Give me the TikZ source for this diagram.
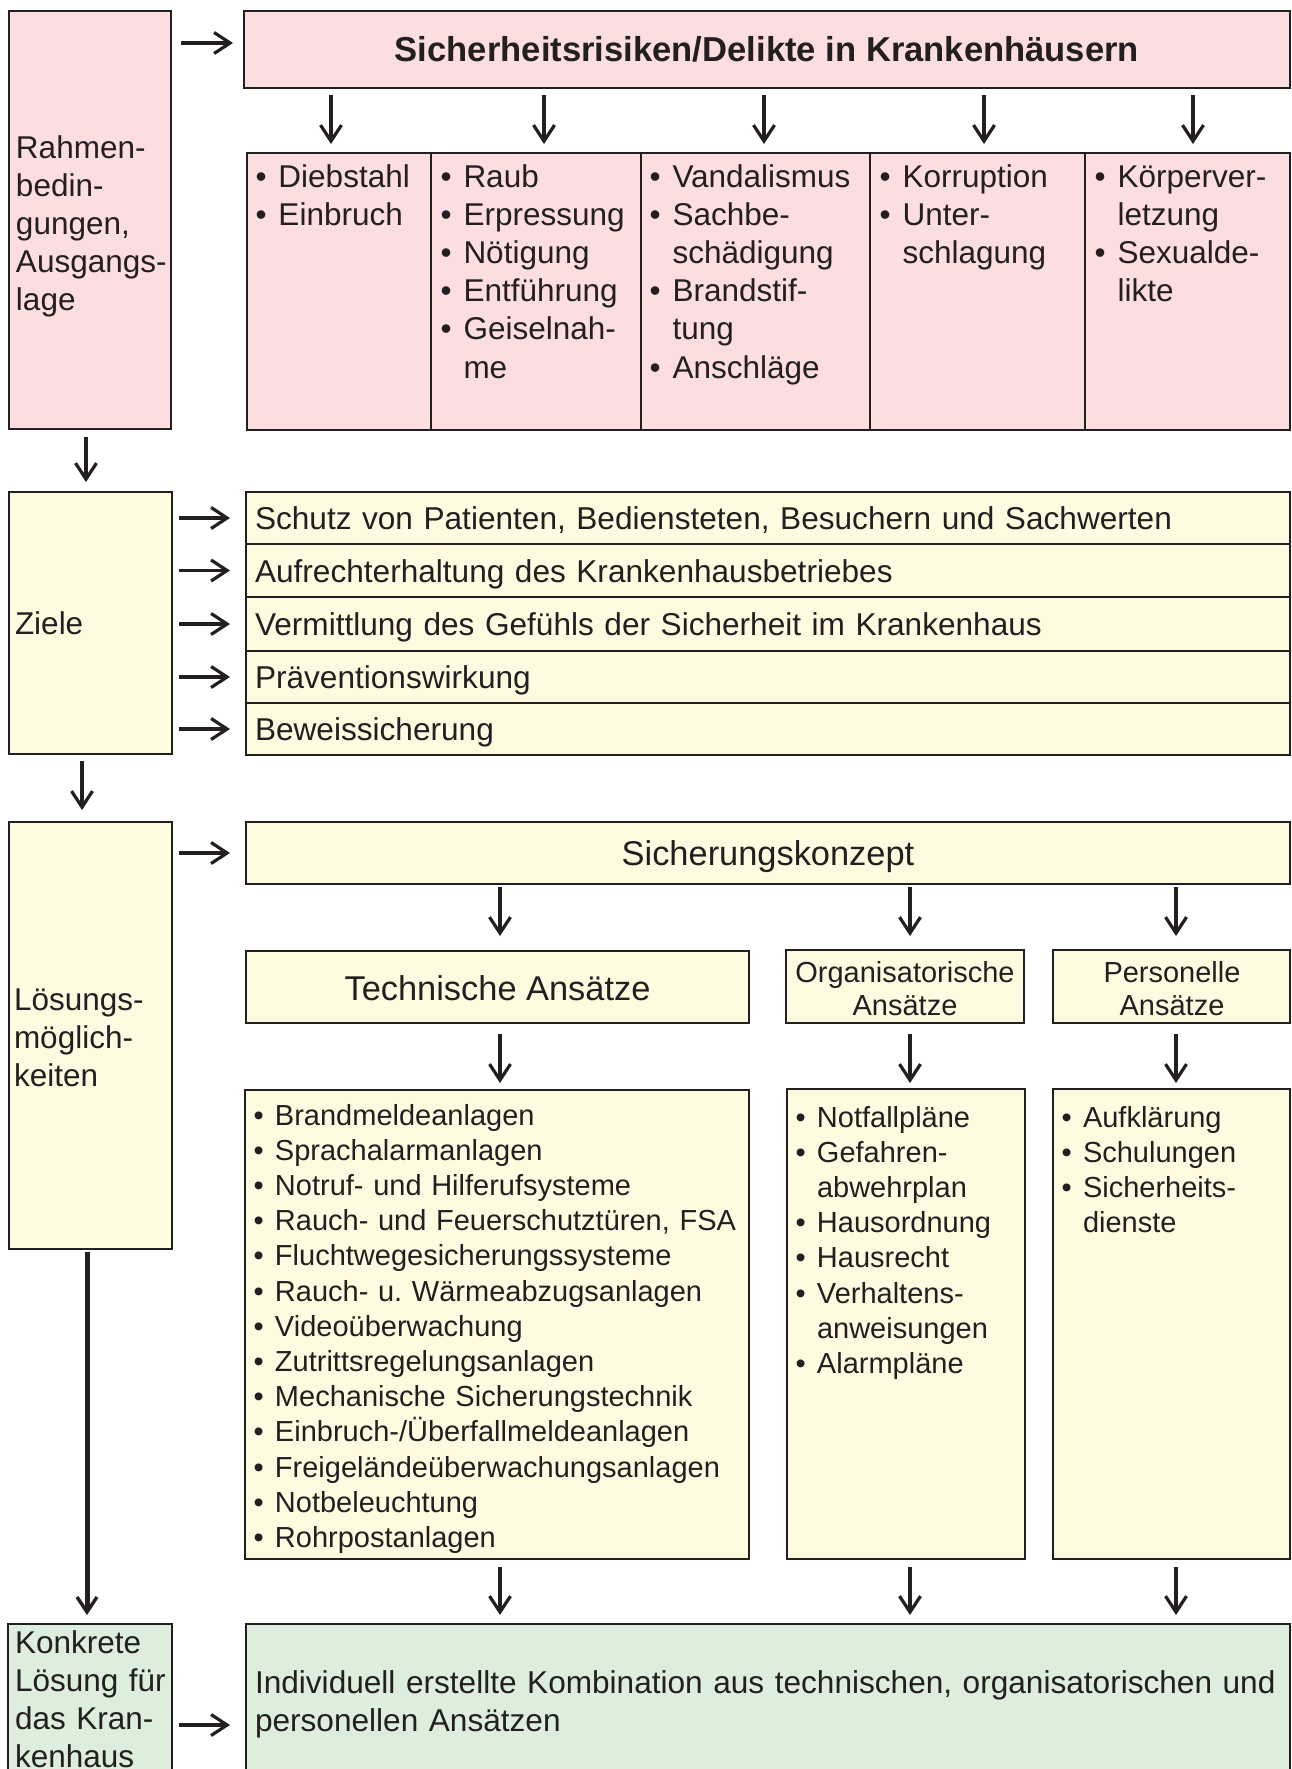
\documentclass[tikz,border=0pt]{standalone}
\usepackage{fontspec}
\setmainfont{Liberation Sans}
\usetikzlibrary{arrows.meta}
\definecolor{pinkf}{RGB}{252,221,224}
\definecolor{yelf}{RGB}{255,251,224}
\definecolor{grnf}{RGB}{221,238,220}
\definecolor{ink}{RGB}{35,31,32}
\newcommand{\bua}{\makebox[23pt][l]{•}}
\newcommand{\cua}{\hspace*{23pt}}
\newcommand{\bub}{\makebox[21.5pt][l]{•}}
\newcommand{\cub}{\hspace*{21.5pt}}
\frenchspacing
\begin{document}
\begin{tikzpicture}[x=1pt,y=-1pt,
  box/.style={draw=ink, line width=2.7pt, inner sep=0pt, outer sep=0pt, anchor=north west},
  arr/.style={ink, line width=3.2pt, -{Straight Barb[length=16pt,width=21pt]}},
  thickarr/.style={ink, line width=5pt, -{Straight Barb[length=15pt,width=20pt,line width=3.4pt]}},
  txt/.style={inner sep=0pt, outer sep=0pt, anchor=base west, text=ink, align=left, text width=#1},
  txt/.default=1100pt,
  fbig/.style={font=\fontsize{31.5}{38.2}\selectfont},
  fgoal/.style={font=\fontsize{31.6}{38.3}\selectfont},
  fhead/.style={font=\fontsize{34.4}{40}\selectfont},
  flist/.style={font=\fontsize{29}{35.2}\selectfont},
  fsub/.style={font=\fontsize{29}{33}\selectfont},
]
\useasboundingbox (0,0) rectangle (1292,1769);
\fill[white] (0,0) rectangle (1292,1769);

% ---------- boxes ----------
\node[box, fill=pinkf, minimum width=162pt, minimum height=418pt] (rahmen) at (9,11) {};
\node[box, fill=pinkf, minimum width=1046pt, minimum height=77pt] (title) at (244,11) {};
\node[box, fill=pinkf, minimum width=184pt, minimum height=277pt] (c1) at (247,153) {};
\node[box, fill=pinkf, minimum width=210pt, minimum height=277pt] (c2) at (431,153) {};
\node[box, fill=pinkf, minimum width=229pt, minimum height=277pt] (c3) at (641,153) {};
\node[box, fill=pinkf, minimum width=215pt, minimum height=277pt] (c4) at (870,153) {};
\node[box, fill=pinkf, minimum width=205pt, minimum height=277pt] (c5) at (1085,153) {};

\node[box, fill=yelf, minimum width=163pt, minimum height=262pt] (ziele) at (9,492) {};
\node[box, fill=yelf, minimum width=1044pt, minimum height=52pt] (g1) at (246,492) {};
\node[box, fill=yelf, minimum width=1044pt, minimum height=53pt] (g2) at (246,544) {};
\node[box, fill=yelf, minimum width=1044pt, minimum height=54pt] (g3) at (246,597) {};
\node[box, fill=yelf, minimum width=1044pt, minimum height=52pt] (g4) at (246,651) {};
\node[box, fill=yelf, minimum width=1044pt, minimum height=52pt] (g5) at (246,703) {};

\node[box, fill=yelf, minimum width=163pt, minimum height=427pt] (loesung) at (9,822) {};
\node[box, fill=yelf, minimum width=1044pt, minimum height=62pt] (konzept) at (246,822) {};
\node[box, fill=yelf, minimum width=503pt, minimum height=72pt] (tech) at (246,951) {};
\node[box, fill=yelf, minimum width=238pt, minimum height=73pt] (org) at (786,950) {};
\node[box, fill=yelf, minimum width=237pt, minimum height=73pt] (pers) at (1053,950) {};
\node[box, fill=yelf, minimum width=504pt, minimum height=469pt] (techl) at (245,1090) {};
\node[box, fill=yelf, minimum width=238pt, minimum height=470pt] (orgl) at (787,1089) {};
\node[box, fill=yelf, minimum width=237pt, minimum height=470pt] (persl) at (1053,1089) {};

\node[box, fill=grnf, minimum width=164pt, minimum height=200pt] (konkret) at (8,1624) {};
\node[box, fill=grnf, minimum width=1044pt, minimum height=200pt] (final) at (246,1624) {};

% ---------- texts ----------
\node[txt=300pt, fbig] (trahmen) at (16,158) {Rahmen-\\bedin-\\gungen,\\Ausgangs-\\lage};
\node[inner sep=0pt, anchor=base, text=ink, font=\bfseries\fontsize{34.6}{40}\selectfont] (ttitle) at (767,62) {Sicherheitsrisiken/Delikte in Krankenhäusern};

\node[txt=300pt, fbig] (tc1) at (255.5,187) {\bua Diebstahl\\\bua Einbruch};
\node[txt=300pt, fbig] (tc2) at (440.5,187) {\bua Raub\\\bua Erpressung\\\bua Nötigung\\\bua Entführung\\\bua Geiselnah-\\\cua me};
\node[txt=300pt, fbig] (tc3) at (649.5,187) {\bua Vandalismus\\\bua Sachbe-\\\cua schädigung\\\bua Brandstif-\\\cua tung\\\bua Anschläge};
\node[txt=300pt, fbig] (tc4) at (879.5,187) {\bua Korruption\\\bua Unter-\\\cua schlagung};
\node[txt=300pt, fbig] (tc5) at (1094.5,187) {\bua Körperver-\\\cua letzung\\\bua Sexualde-\\\cua likte};

\node[txt, fbig] (tziele) at (15,634) {Ziele};
\node[txt, fgoal] (tg1) at (255,529) {Schutz von Patienten, Bediensteten, Besuchern und Sachwerten};
\node[txt, fgoal] (tg2) at (255,582) {Aufrechterhaltung des Krankenhausbetriebes};
\node[txt, fgoal] (tg3) at (255,635) {Vermittlung des Gefühls der Sicherheit im Krankenhaus};
\node[txt, fgoal] (tg4) at (255,688) {Präventionswirkung};
\node[txt, fgoal] (tg5) at (255,740) {Beweissicherung};

\node[txt=300pt, fbig] (tloesung) at (14,1010) {Lösungs-\\möglich-\\keiten};
\node[inner sep=0pt, anchor=base, text=ink, fhead] (tkonzept) at (768,865) {Sicherungskonzept};
\node[inner sep=0pt, anchor=base, text=ink, fhead] (ttech) at (497.5,1000) {Technische Ansätze};
\node[inner sep=0pt, anchor=base, text=ink, fsub, align=center, text width=236pt] (torg) at (905,982) {Organisatorische\\Ansätze};
\node[inner sep=0pt, anchor=base, text=ink, fsub, align=center, text width=236pt] (tpers) at (1172,982) {Personelle\\Ansätze};

\node[txt=600pt, flist] (ttechl) at (253.5,1125) {\bub Brandmeldeanlagen\\\bub Sprachalarmanlagen\\\bub Notruf- und Hilferufsysteme\\\bub Rauch- und Feuerschutztüren, FSA\\\bub Fluchtwegesicherungssysteme\\\bub Rauch- u. Wärmeabzugsanlagen\\\bub Videoüberwachung\\\bub Zutrittsregelungsanlagen\\\bub Mechanische Sicherungstechnik\\\bub Einbruch-/Überfallmeldeanlagen\\\bub Freigeländeüberwachungsanlagen\\\bub Notbeleuchtung\\\bub Rohrpostanlagen};
\node[txt=300pt, flist] (torgl) at (795.5,1127) {\bub Notfallpläne\\\bub Gefahren-\\\cub abwehrplan\\\bub Hausordnung\\\bub Hausrecht\\\bub Verhaltens-\\\cub anweisungen\\\bub Alarmpläne};
\node[txt=300pt, flist] (tpersl) at (1061.5,1127) {\bub Aufklärung\\\bub Schulungen\\\bub Sicherheits-\\\cub dienste};

\node[txt=300pt, font=\fontsize{31.5}{38}\selectfont] (tkonkret) at (15,1653) {Konkrete\\Lösung für\\das Kran-\\kenhaus};
\node[txt=1200pt, fgoal] (tfinal) at (255,1693) {Individuell erstellte Kombination aus technischen, organisatorischen und\\personellen Ansätzen};

% ---------- arrow helper coordinates ----------
\coordinate (ya) at (0,43);
\coordinate (yk) at (0,1725);
\coordinate (ax1) at (331,0);
\coordinate (ax2) at (544,0);
\coordinate (ax3) at (764,0);
\coordinate (ax4) at (984,0);
\coordinate (ax5) at (1193,0);
\coordinate (bx1) at (500,0);
\coordinate (bx2) at (910,0);
\coordinate (bx3) at (1176,0);
\coordinate (lx1) at (86,0);
\coordinate (lx2) at (82,0);
\coordinate (lx3) at (87,0);

% ---------- connectors ----------
\draw[arr, shorten <=10pt, shorten >=11pt] (rahmen.east |- ya) -- (title.west |- ya);
\draw[arr, shorten <=7pt, shorten >=9pt] (title.south -| ax1) -- (c1.north -| ax1);
\draw[arr, shorten <=7pt, shorten >=9pt] (title.south -| ax2) -- (c2.north -| ax2);
\draw[arr, shorten <=7pt, shorten >=9pt] (title.south -| ax3) -- (c3.north -| ax3);
\draw[arr, shorten <=7pt, shorten >=9pt] (title.south -| ax4) -- (c4.north -| ax4);
\draw[arr, shorten <=7pt, shorten >=9pt] (title.south -| ax5) -- (c5.north -| ax5);

\draw[arr, shorten <=8pt, shorten >=10pt] (rahmen.south -| lx1) -- (ziele.north -| lx1);
\foreach \g in {g1,g2,g3,g4,g5}
  \draw[arr, shorten <=7pt, shorten >=16pt] (ziele.east |- \g.west) -- (\g.west);

\draw[arr, shorten <=7pt, shorten >=12pt] (ziele.south -| lx2) -- (loesung.north -| lx2);
\draw[arr, shorten <=7pt, shorten >=16pt] (loesung.east |- konzept.west) -- (konzept.west);

\draw[arr, shorten <=3pt, shorten >=15pt] (konzept.south -| bx1) -- (tech.north -| bx1);
\draw[arr, shorten <=3pt, shorten >=14pt] (konzept.south -| bx2) -- (org.north -| bx2);
\draw[arr, shorten <=3pt, shorten >=14pt] (konzept.south -| bx3) -- (pers.north -| bx3);

\draw[arr, shorten <=11pt, shorten >=7pt] (tech.south -| bx1) -- (techl.north -| bx1);
\draw[arr, shorten <=11pt, shorten >=6pt] (org.south -| bx2) -- (orgl.north -| bx2);
\draw[arr, shorten <=11pt, shorten >=6pt] (pers.south -| bx3) -- (persl.north -| bx3);

\draw[arr, shorten <=8pt, shorten >=9pt] (techl.south -| bx1) -- (final.north -| bx1);
\draw[arr, shorten <=8pt, shorten >=9pt] (orgl.south -| bx2) -- (final.north -| bx2);
\draw[arr, shorten <=8pt, shorten >=9pt] (persl.south -| bx3) -- (final.north -| bx3);

\draw[thickarr, shorten <=3pt, shorten >=9pt] (loesung.south -| lx3) -- (konkret.north -| lx3);
\draw[arr, shorten <=7pt, shorten >=16pt] (konkret.east |- yk) -- (final.west |- yk);
\end{tikzpicture}
\end{document}
